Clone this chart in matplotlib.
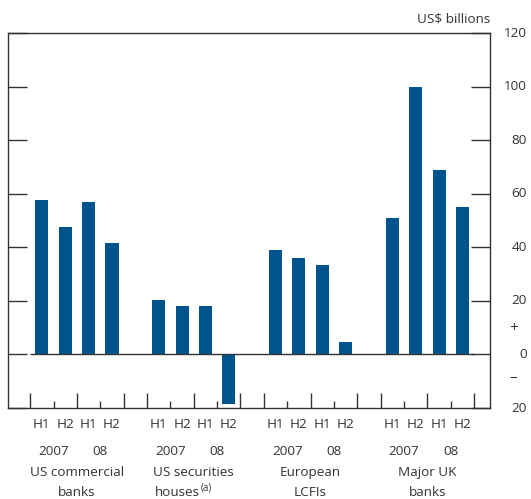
import numpy as np
import matplotlib
matplotlib.use("Agg")
import matplotlib.pyplot as plt
from matplotlib.transforms import blended_transform_factory

plt.rcParams["font.family"] = ["Open Sans", "DejaVu Sans"]

# ====== данные ======
groups = [["US commercial", "banks"], ["US securities", "houses"],
          ["European", "LCFIs"], ["Major UK", "banks"]]
halves = ["H1", "H2", "H1", "H2"]
years = ["2007", "08"]
values = [
    [57.5, 47.5, 57.0, 41.5],
    [20.5, 18.0, 18.0, -18.5],
    [39.0, 36.0, 33.5, 4.5],
    [51.0, 100.0, 69.0, 55.0],
]
yticks = [-20, 0, 20, 40, 60, 80, 100, 120]

bar_color = "#00548B"
frame_color = "#333333"
text_color = "#333333"

fig = plt.figure(figsize=(5.31, 4.99), dpi=100)
ax = fig.add_axes([8 / 531, 91 / 499, 482 / 531, 375 / 499])

gap = 5
xs, hs = [], []
for g, vals in enumerate(values):
    for i, v in enumerate(vals):
        xs.append(g * gap + i)
        hs.append(v)
ax.bar(xs, hs, width=0.56, color=bar_color, zorder=3)

# нулевая линия
ax.hlines(0, -0.5, (len(values) - 1) * gap + 3.5, color=frame_color, lw=1.0, zorder=4)

ax.set_xlim(-1.45, (len(values) - 1) * gap + 4.18)
ax.set_ylim(-20, 120)

for s in ax.spines.values():
    s.set_color(frame_color)
    s.set_linewidth(1.0)

ax.set_yticks(yticks)
ax.tick_params(axis="y", which="both", left=True, right=True, labelleft=False,
               labelright=False, direction="in", length=14, width=1.0,
               color=frame_color)

fs = 9.7
ytr = blended_transform_factory(ax.transAxes, ax.transData)
for v in yticks:
    ax.text(1.077, v, f"{abs(v)}", transform=ytr, ha="right", va="center",
            fontsize=fs, color=text_color, clip_on=False)

major_x, minor_x = [], []
for g in range(len(values)):
    b = g * gap
    major_x += [b - 0.5, b + 1.5, b + 3.5]
    minor_x += [b + 0.5, b + 2.5]
ax.set_xticks(major_x)
ax.set_xticks(minor_x, minor=True)
ax.tick_params(axis="x", which="major", direction="in", length=11, width=1.0,
               color=frame_color, labelbottom=False)
ax.tick_params(axis="x", which="minor", direction="in", length=5, width=1.0,
               color=frame_color, labelbottom=False)

tr = blended_transform_factory(ax.transData, ax.transAxes)
for g, name in enumerate(groups):
    b = g * gap
    for i, h in enumerate(halves):
        ax.text(b + i, -0.045, h, transform=tr, ha="center", va="center",
                fontsize=fs, color=text_color)
    ax.text(b + 0.5, -0.117, years[0], transform=tr, ha="center", va="center",
            fontsize=fs, color=text_color)
    ax.text(b + 2.5, -0.117, years[1], transform=tr, ha="center", va="center",
            fontsize=fs, color=text_color)
    ax.text(b + 1.5, -0.173, name[0], transform=tr, ha="center", va="center",
            fontsize=fs, color=text_color)
    if g == 1:
        # сноска (a)
        ax.text(b + 1.78, -0.224, name[1], transform=tr, ha="right", va="center",
                fontsize=fs, color=text_color)
        ax.text(b + 1.78, -0.212, "(a)", transform=tr, ha="left", va="center",
                fontsize=7, color=text_color)
    else:
        ax.text(b + 1.5, -0.224, name[1], transform=tr, ha="center", va="center",
                fontsize=fs, color=text_color)

ax.text(1.0, 1.037, "US$ billions", transform=ax.transAxes, ha="right",
        va="center", fontsize=fs, color=text_color)
ax.text(1.048, 0.213, "+", transform=ax.transAxes,
        ha="center", va="center", fontsize=11, color=text_color)
ax.text(1.048, 0.08, "\u2013", transform=ax.transAxes,
        ha="center", va="center", fontsize=11, color=text_color)

fig.savefig("out.png", dpi=100)
